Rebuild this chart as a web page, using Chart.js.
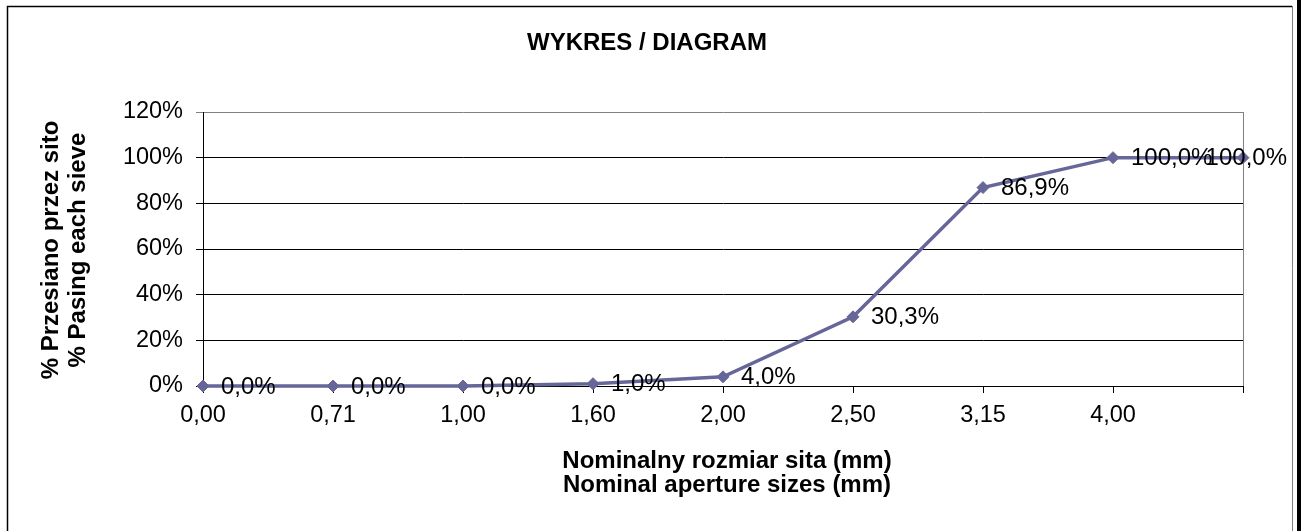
<!DOCTYPE html>
<html>
<head>
<meta charset="utf-8">
<title>WYKRES / DIAGRAM</title>
<script src="https://cdn.jsdelivr.net/npm/chart.js@4.4.1/dist/chart.umd.min.js"></script>
<style>
  html, body { margin: 0; padding: 0; background: #fff; }
  #chart { display: block; }
</style>
</head>
<body>
<canvas id="chart" width="1301" height="531"></canvas>
<script>
// Data
const sieveSizes = ["0,00", "0,71", "1,00", "1,60", "2,00", "2,50", "3,15", "4,00", ""]
const passing = [0, 0, 0, 1.0, 4.0, 30.3, 86.9, 100, 100]
const yMax = 120
const yStep = 20

const chartTitle = "WYKRES / DIAGRAM"
const yTitleLines = ["% Przesiano przez sito", "% Pasing each sieve"]
const xTitleLines = ["Nominalny rozmiar sita (mm)", "Nominal aperture sizes (mm)"]

const FONT = '"Liberation Sans", Arial, sans-serif'
const lineColor = "#666699"

// Frame, titles and point labels
const decorations = {
  id: "decorations",
  afterDraw(chart) {
    const ctx = chart.ctx
    const area = chart.chartArea
    ctx.save()

    // outer frame
    ctx.strokeStyle = "#000"
    ctx.lineWidth = 1.5
    ctx.beginPath()
    ctx.moveTo(7.5, 531)
    ctx.lineTo(7.5, 6.5)
    ctx.lineTo(1292, 6.5)
    ctx.stroke()
    ctx.strokeStyle = "#808080"
    ctx.lineWidth = 1
    ctx.beginPath()
    ctx.moveTo(1292.5, 6)
    ctx.lineTo(1292.5, 531)
    ctx.stroke()
    ctx.fillStyle = "#000"
    ctx.fillRect(1297, 0, 4, 531)

    // plot area right edge
    ctx.strokeStyle = "#808080"
    ctx.beginPath()
    ctx.moveTo(Math.round(area.right) + 0.5, area.top)
    ctx.lineTo(Math.round(area.right) + 0.5, area.bottom)
    ctx.stroke()

    // titles
    ctx.fillStyle = "#000"
    ctx.textAlign = "center"
    ctx.textBaseline = "middle"
    ctx.font = "bold 24px " + FONT
    ctx.fillText(chartTitle, 647, 43)
    ctx.fillText(xTitleLines[0], 727, 461)
    ctx.fillText(xTitleLines[1], 727, 485)
    ctx.save()
    ctx.translate(51, 250)
    ctx.rotate(-Math.PI / 2)
    ctx.fillText(yTitleLines[0], 0, 0)
    ctx.restore()
    ctx.save()
    ctx.translate(78, 250)
    ctx.rotate(-Math.PI / 2)
    ctx.fillText(yTitleLines[1], 0, 0)
    ctx.restore()

    // point labels, kept inside the frame like Excel does
    const meta = chart.getDatasetMeta(0)
    ctx.font = "24px " + FONT
    ctx.textAlign = "left"
    meta.data.forEach((pt, i) => {
      const txt = passing[i].toFixed(1).replace(".", ",") + "%"
      const w = ctx.measureText(txt).width
      const x = Math.min(pt.x + 18, 1287 - w)
      ctx.fillText(txt, x, pt.y + 1)
    })
    ctx.restore()
  },
}

const ctx = document.getElementById("chart").getContext("2d")
const chart = new Chart(ctx, {
  type: "line",
  data: {
    labels: sieveSizes,
    datasets: [
      {
        data: passing,
        borderColor: lineColor,
        backgroundColor: lineColor,
        borderWidth: 3.5,
        pointStyle: "rectRot",
        pointRadius: 6,
        pointBorderWidth: 1,
        pointBackgroundColor: lineColor,
        pointBorderColor: lineColor,
        tension: 0,
        clip: false,
      },
    ],
  },
  options: {
    responsive: false,
    animation: false,
    devicePixelRatio: 1,
    layout: { padding: { top: 112, right: 58, left: 0, bottom: 0 } },
    plugins: {
      legend: { display: false },
      title: { display: false },
      tooltip: { enabled: false },
    },
    scales: {
      x: {
        type: "category",
        offset: false,
        afterFit: (scale) => { scale.height = 145 },
        grid: { drawOnChartArea: false, drawTicks: true, tickLength: 7, color: "#000" },
        border: { color: "#000", width: 1 },
        ticks: {
          color: "#000",
          font: { family: FONT, size: 23.5 },
          padding: 8,
          maxRotation: 0,
          autoSkip: false,
        },
      },
      y: {
        min: 0,
        max: yMax,
        afterFit: (scale) => { scale.width = 203 },
        grid: {
          color: (c) => (c.tick && c.tick.value === yMax ? "#808080" : "#000"),
          tickLength: 7,
          lineWidth: 1,
        },
        border: { color: "#000", width: 1 },
        ticks: {
          stepSize: yStep,
          color: "#000",
          font: { family: FONT, size: 23.5 },
          padding: 13,
          callback: (v) => v + "%",
        },
      },
    },
  },
  plugins: [decorations],
})
</script>
</body>
</html>
